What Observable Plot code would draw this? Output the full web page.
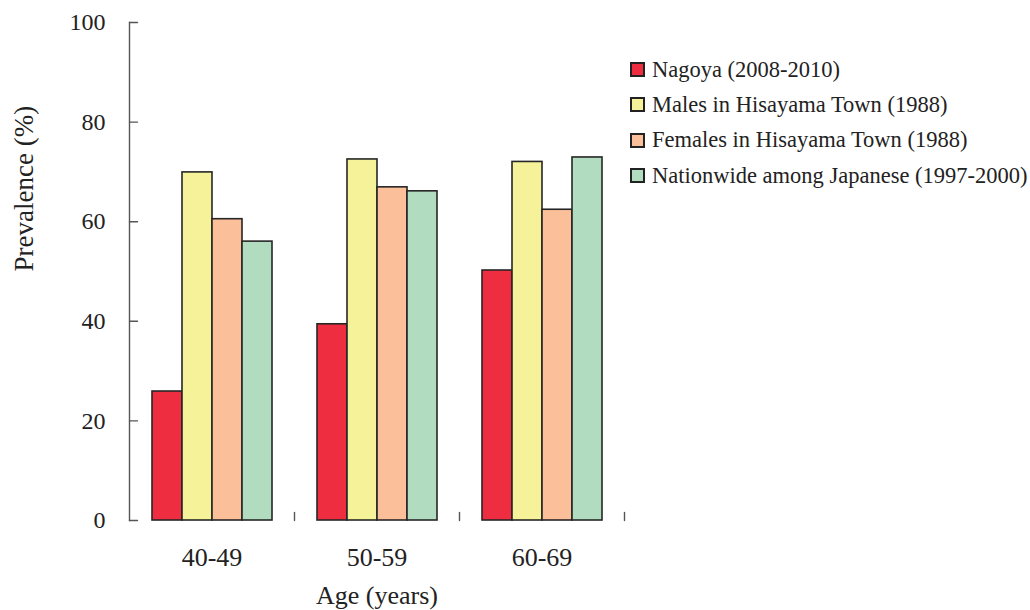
<!DOCTYPE html>
<html>
<head>
<meta charset="utf-8">
<script src="https://cdn.jsdelivr.net/npm/d3@7"></script>
<script src="https://cdn.jsdelivr.net/npm/@observablehq/plot@0.6"></script>
<style>
  body { margin: 0; background: white; }
  #wrap { position: relative; width: 1030px; height: 610px; font-family: "Times New Roman", Times, "Liberation Serif", "DejaVu Serif", serif; }
  #legend { position: absolute; left: 630px; top: 52px; }
  .row { display: flex; align-items: center; height: 35.3px; font-size: 22.5px; color: #222; white-space: nowrap; }
  .sw { width: 11px; height: 11px; border: 2px solid #222; margin-right: 7px; flex: none; }
</style>
</head>
<body>
<div id="wrap"><div id="chart"></div><div id="legend"></div></div>
<script>
const groups = ["40-49", "50-59", "60-69"];
const series = ["Nagoya (2008-2010)", "Males in Hisayama Town (1988)", "Females in Hisayama Town (1988)", "Nationwide among Japanese (1997-2000)"];
const nagoya = [25.9, 39.4, 50.2];
const males = [69.9, 72.5, 72.0];
const females = [60.5, 66.9, 62.4];
const nationwide = [56.0, 66.1, 72.9];
const colors = ["#EE2E40", "#F5F299", "#FBBF99", "#B2DCBF"];
const yTicks = [0, 20, 40, 60, 80, 100];

const seriesValues = [nagoya, males, females, nationwide];
const table = [];
groups.forEach((g, i) => series.forEach((s, j) => table.push({group: g, series: s, value: seriesValues[j][i]})));

const lineShape = {draw(context, l) { context.moveTo(0, 0); context.lineTo(0, -l); }};
const axisColor = "#555";
const serif = "'Times New Roman', Times, 'Liberation Serif', 'DejaVu Serif', serif";

const chart = Plot.plot({
  width: 1030,
  height: 610,
  marginLeft: 128,
  marginRight: 405,
  marginTop: 22,
  marginBottom: 90,
  style: {fontFamily: serif, background: "white", color: "#222"},
  fx: {domain: groups, padding: 0},
  x: {domain: series, axis: null, paddingInner: 0, paddingOuter: 0.72},
  y: {domain: [0, 100]},
  color: {domain: series, range: colors},
  marks: [
    Plot.barY(table, {fx: "group", x: "series", y: "value", fill: "series", stroke: "#262626", strokeWidth: 1.6}),
    Plot.frame({anchor: "left", facetAnchor: "left", stroke: axisColor, strokeWidth: 1.4}),
    Plot.vector(yTicks, {y: d => d, frameAnchor: "left", rotate: 90, length: 8, anchor: "start", shape: lineShape, stroke: axisColor, strokeWidth: 1.4, facetAnchor: "left"}),
    Plot.vector([0], {frameAnchor: "bottom-right", length: 8, anchor: "start", shape: lineShape, stroke: axisColor, strokeWidth: 1.4}),
    Plot.axisY({ticks: yTicks, tickSize: 0, tickPadding: 24, fontSize: 24, label: null}),
    Plot.text(["Prevalence (%)"], {frameAnchor: "left", rotate: -90, dx: -105, fontSize: 27, facetAnchor: "left", fill: "#222"}),
    Plot.axisFx({anchor: "bottom", tickSize: 0, tickPadding: 27, fontSize: 26, label: null}),
    Plot.axisFx({anchor: "bottom", ticks: [], fontSize: 26, label: "Age (years)", labelAnchor: "center", labelOffset: 83, labelArrow: false})
  ]
});
document.getElementById("chart").appendChild(chart);

const legend = document.getElementById("legend");
series.forEach((s, i) => {
  const row = document.createElement("div");
  row.className = "row";
  const sw = document.createElement("div");
  sw.className = "sw";
  sw.style.background = colors[i];
  row.appendChild(sw);
  row.appendChild(document.createTextNode(s));
  legend.appendChild(row);
});
</script>
</body>
</html>
